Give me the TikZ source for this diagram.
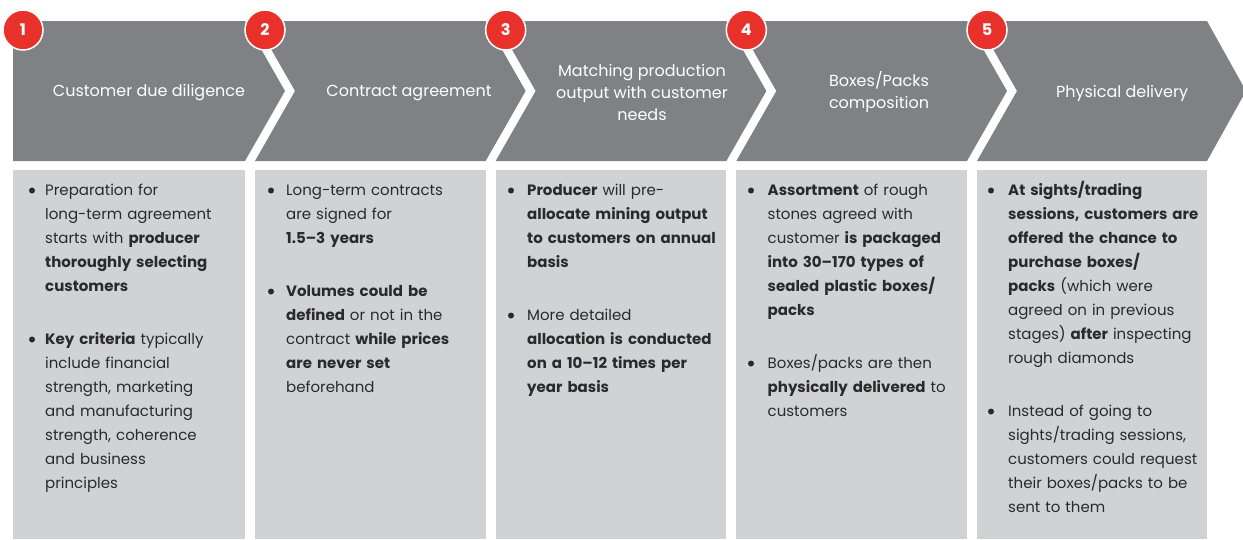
\documentclass[tikz,border=0pt]{standalone}
\usepackage{fontspec}
\setmainfont{Poppins}
\definecolor{chev}{HTML}{808184}
\definecolor{boxg}{HTML}{D1D2D4}
\definecolor{badgered}{HTML}{E8312A}
\definecolor{txt}{HTML}{2A2A2A}
\tikzset{
  chevron/.style={fill=chev,draw=none},
  panel/.style={fill=boxg,draw=none},
  badgec/.style={circle,fill=badgered,draw=white,line width=1.5pt,minimum size=40pt,inner sep=0pt,
    font=\fontsize{16}{16}\selectfont\bfseries,text=white},
  head/.style={text=white,align=center,inner sep=0pt,font=\fontsize{16}{22}\selectfont},
  para/.style={anchor=base west,text width=230pt,align=left,inner sep=0pt,text=txt,
    font=\fontsize{15}{24}\selectfont},
  dotb/.style={circle,fill=txt,inner sep=0pt,minimum size=6pt}
}
\begin{document}
\begin{tikzpicture}[x=1pt,y=-1pt]
\useasboundingbox (0,0) rectangle (1243,539);
\fill[white] (0,0) rectangle (1243,539);
% chevrons
\fill[chevron] (13,21) -- (245,21) -- (285,91) -- (245,161) -- (13,161) -- cycle;
\fill[chevron] (255,21) -- (485.67,21) -- (525.67,91) -- (485.67,161) -- (255,161) -- (295,91) -- cycle;
\fill[chevron] (495.67,21) -- (726.33,21) -- (766.33,91) -- (726.33,161) -- (495.67,161) -- (535.67,91) -- cycle;
\fill[chevron] (736.33,21) -- (967,21) -- (1007,91) -- (967,161) -- (736.33,161) -- (776.33,91) -- cycle;
\fill[chevron] (977,21) -- (1207,21) -- (1246,91) -- (1207,161) -- (977,161) -- (1017,91) -- cycle;
% panels
\fill[panel] (13,170) rectangle (245,539);
\fill[panel] (255,170) rectangle (485.67,539);
\fill[panel] (495.67,170) rectangle (726.33,539);
\fill[panel] (736.33,170) rectangle (967,539);
\fill[panel] (977,170) rectangle (1207,539);
% headings
\node[head] (h1) at (149,93) {Customer due diligence};
\node[head] (h2) at (409,93) {Contract agreement};
\node[head] (h3) at (642,92) {Matching production\\output with customer\\needs};
\node[head] (h4) at (879,92) {Boxes/Packs\\composition};
\node[head] (h5) at (1122,93) {Physical delivery};
% badges
\node[badgec] (b1) at (23,30) {1};
\node[badgec] (b2) at (265,30) {2};
\node[badgec] (b3) at (505.67,30) {3};
\node[badgec] (b4) at (746.33,30) {4};
\node[badgec] (b5) at (987,30) {5};
% box 1
\node[dotb] (d11) at (32,190.5) {};
\node[para] (p11) at (45,195.5) {Preparation for\\long-term agreement\\starts with \textbf{producer}\\\textbf{thoroughly selecting}\\\textbf{customers}};
\node[dotb] (d12) at (32,339.5) {};
\node[para] (p12) at (45,344.5) {\textbf{Key criteria} typically\\include financial\\strength, marketing\\and manufacturing\\strength, coherence\\and business\\principles};
% box 2
\node[dotb] (d21) at (271,190.5) {};
\node[para] (p21) at (286,195.5) {Long-term contracts\\are signed for\\\textbf{1.5–3 years}};
\node[dotb] (d22) at (271,291.5) {};
\node[para] (p22) at (286,296.5) {\textbf{Volumes could be}\\\textbf{defined} or not in the\\contract \textbf{while prices}\\\textbf{are never set}\\beforehand};
% box 3
\node[dotb] (d31) at (511,190.5) {};
\node[para] (p31) at (527,195.5) {\textbf{Producer} will pre-\\\textbf{allocate mining output}\\\textbf{to customers on annual}\\\textbf{basis}};
\node[dotb] (d32) at (511,315.5) {};
\node[para] (p32) at (527,320.5) {More detailed\\\textbf{allocation is conducted}\\\textbf{on a 10–12 times per}\\\textbf{year basis}};
% box 4
\node[dotb] (d41) at (751,190.5) {};
\node[para] (p41) at (767.5,195.5) {\textbf{Assortment} of rough\\stones agreed with\\customer \textbf{is packaged}\\\textbf{into 30–170 types of}\\\textbf{sealed plastic boxes/}\\\textbf{packs}};
\node[dotb] (d42) at (751,363.5) {};
\node[para] (p42) at (767.5,368.5) {Boxes/packs are then\\\textbf{physically delivered} to\\customers};
% box 5
\node[dotb] (d51) at (991,190.5) {};
\node[para] (p51) at (1008,195.5) {\textbf{At sights/trading}\\\textbf{sessions, customers are}\\\textbf{offered the chance to}\\\textbf{purchase boxes/}\\\textbf{packs} (which were\\agreed on in previous\\stages) \textbf{after} inspecting\\rough diamonds};
\node[dotb] (d52) at (991,411.5) {};
\node[para] (p52) at (1008,416.5) {Instead of going to\\sights/trading sessions,\\customers could request\\their boxes/packs to be\\sent to them};
\end{tikzpicture}
\end{document}
